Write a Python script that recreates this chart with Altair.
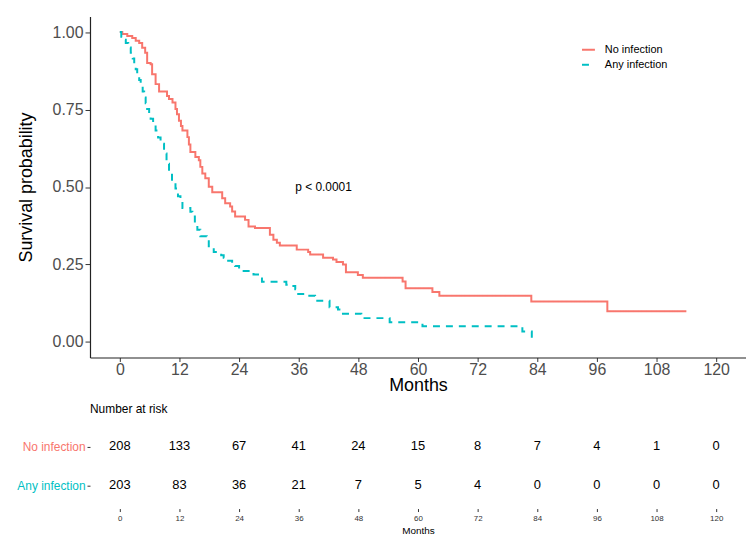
import altair as alt
import pandas as pd

# ---------------- data ----------------
groups = ["No infection", "Any infection"]
colors = ["#F8766D", "#00BFC4"]

no_time = [0, 0.5, 1.5, 2.5, 3.2, 3.9, 4.5, 5.1, 5.5, 6.2, 6.5, 7.2, 7.9, 9.5, 9.9,
           10.6, 11.2, 11.5, 11.9, 12.3, 12.6, 13.6, 13.9, 14.2, 15.2, 15.9, 16.2,
           16.6, 17.2, 17.9, 18.6, 20.6, 21.2, 22.2, 22.6, 23.2, 25.2, 25.9, 27.2,
           30.2, 30.9, 31.6, 32.2, 35.6, 37.9, 38.3, 40.9, 42.9, 43.6, 44.9, 45.5,
           47.9, 48.9, 56.9, 57.5, 62.9, 64.3, 82.8, 98.1, 114.0]
no_surv = [1.0, 0.994, 0.987, 0.981, 0.972, 0.965, 0.949, 0.933, 0.900, 0.896, 0.864,
           0.832, 0.808, 0.794, 0.784, 0.773, 0.752, 0.735, 0.714, 0.697, 0.682,
           0.661, 0.637, 0.613, 0.597, 0.586, 0.565, 0.544, 0.528, 0.501, 0.483,
           0.464, 0.448, 0.437, 0.421, 0.405, 0.394, 0.373, 0.368, 0.346, 0.330,
           0.320, 0.311, 0.298, 0.290, 0.282, 0.272, 0.266, 0.258, 0.250, 0.225,
           0.216, 0.207, 0.195, 0.173, 0.161, 0.149, 0.131, 0.099, 0.099]

any_time = [0, 0.3, 0.8, 1.2, 1.7, 2.2, 2.6, 2.9, 3.2, 3.5, 3.9, 4.2, 4.6, 4.9, 5.2,
            5.5, 5.9, 6.2, 6.7, 7.2, 7.7, 8.2, 8.9, 9.4, 9.9, 10.5, 11.2, 11.7, 12.2,
            12.6, 14.2, 14.6, 15.1, 15.6, 16.2, 17.5, 17.9, 18.9, 20.4, 20.9, 21.8,
            22.6, 23.2, 24.0, 24.6, 26.9, 27.8, 28.6, 33.5, 33.9, 35.3, 35.9, 37.9,
            39.3, 42.2, 43.9, 44.9, 48.6, 54.3, 60.9, 81.0, 82.9, 83.6]
any_surv = [1.0, 0.985, 0.975, 0.965, 0.950, 0.933, 0.915, 0.896, 0.880, 0.864, 0.845,
            0.826, 0.808, 0.789, 0.770, 0.752, 0.736, 0.720, 0.700, 0.682, 0.660,
            0.640, 0.608, 0.575, 0.544, 0.520, 0.495, 0.470, 0.453, 0.432, 0.420,
            0.405, 0.385, 0.362, 0.341, 0.325, 0.309, 0.290, 0.280, 0.272, 0.262,
            0.250, 0.245, 0.236, 0.229, 0.218, 0.205, 0.194, 0.185, 0.181, 0.170,
            0.155, 0.149, 0.133, 0.112, 0.105, 0.091, 0.077, 0.064, 0.051, 0.034,
            0.017, 0.017]

risk_months = [0, 12, 24, 36, 48, 60, 72, 84, 96, 108, 120]
risk_no = [208, 133, 67, 41, 24, 15, 8, 7, 4, 1, 0]
risk_any = [203, 83, 36, 21, 7, 5, 4, 0, 0, 0, 0]

x_ticks = [0, 12, 24, 36, 48, 60, 72, 84, 96, 108, 120]
y_ticks = [0.0, 0.25, 0.5, 0.75, 1.0]
pval_text = ["p < 0.0001"]
pval_time = [35.3]
pval_surv = [0.5]

# ---------------- tables ----------------
curves = pd.concat([
    pd.DataFrame({"time": no_time, "surv": no_surv, "group": groups[0]}),
    pd.DataFrame({"time": any_time, "surv": any_surv, "group": groups[1]}),
], ignore_index=True)
risk = pd.concat([
    pd.DataFrame({"month": risk_months, "n": risk_no, "group": groups[0]}),
    pd.DataFrame({"month": risk_months, "n": risk_any, "group": groups[1]}),
], ignore_index=True)
pval = pd.DataFrame({"time": pval_time, "surv": pval_surv, "label": pval_text})

FONT = "Liberation Sans"
W = 660
x_scale = alt.Scale(domain=[-6, 126], nice=False, zero=False)
y_scale = alt.Scale(domain=[-0.05, 1.05], nice=False, zero=False)

x_axis = alt.Axis(values=x_ticks, title="Months", grid=False, domainColor="#222222",
                  domainWidth=1.2, tickColor="#333333", tickSize=4, tickWidth=1,
                  labelFontSize=16, labelColor="#4D4D4D", labelPadding=0,
                  titleFontSize=18, titleFontWeight="normal", titleColor="black",
                  titlePadding=-1)
y_axis = alt.Axis(values=y_ticks, format=".2f", title="Survival probability", grid=False,
                  domainColor="#222222", domainWidth=1.2, tickColor="#333333",
                  tickSize=5, tickWidth=1, labelFontSize=16, labelColor="#4D4D4D",
                  labelPadding=2, titleFontSize=18, titleFontWeight="normal",
                  titleColor="black", titlePadding=17)

leg = alt.Legend(title=None, orient="none", legendX=494, legendY=26, symbolType="stroke",
                 symbolStrokeWidth=2, symbolSize=169, labelFontSize=11, labelOffset=9,
                 labelColor="black", rowPadding=2, padding=0)

lines = alt.Chart(curves).mark_line(interpolate="step-after", strokeWidth=2).encode(
    x=alt.X("time:Q", scale=x_scale, axis=x_axis),
    y=alt.Y("surv:Q", scale=y_scale, axis=y_axis),
    color=alt.Color("group:N", scale=alt.Scale(domain=groups, range=colors), legend=leg),
    strokeDash=alt.StrokeDash("group:N", scale=alt.Scale(domain=groups, range=[[1, 0], [7, 6]]),
                              legend=leg),
)
ptext = alt.Chart(pval).mark_text(align="left", baseline="middle", fontSize=12,
                                  color="black").encode(
    x=alt.X("time:Q", scale=x_scale, axis=x_axis),
    y=alt.Y("surv:Q", scale=y_scale, axis=y_axis),
    text="label:N",
)
top = alt.layer(lines, ptext).properties(width=W, height=343)

label_color = {"condition": {"test": "datum.value === 'No infection'", "value": colors[0]},
               "value": colors[1]}
bottom = alt.Chart(risk).mark_text(fontSize=13, color="black", baseline="middle").encode(
    x=alt.X("month:Q", scale=x_scale,
            axis=alt.Axis(values=x_ticks, title="Months", grid=False, domain=False,
                          offset=4, tickSize=3, tickColor="#333333", labelFontSize=8,
                          labelColor="#333333", labelPadding=3, titleFontSize=10,
                          titleFontWeight="normal", titleColor="black", titlePadding=3)),
    y=alt.Y("group:N", sort=groups, scale=alt.Scale(type="point", padding=0.5, domain=groups),
            axis=alt.Axis(title=None, domain=False, grid=False, tickSize=3,
                          tickColor="#333333", labelFontSize=12, labelColor=label_color,
                          labelPadding=2)),
    text="n:Q",
).properties(width=W, height=78,
             title=alt.TitleParams("Number at risk", anchor="start", frame="group",
                                   fontSize=12, fontWeight="normal", color="black",
                                   offset=11))

chart = alt.vconcat(top, bottom, spacing=9).properties(
    padding={"left": 8.5, "top": 7, "right": 0, "bottom": 0},
    background="white",
).configure(font=FONT).configure_view(stroke=None)

chart.save("out.html", embed_options={"renderer": "svg", "actions": False})
